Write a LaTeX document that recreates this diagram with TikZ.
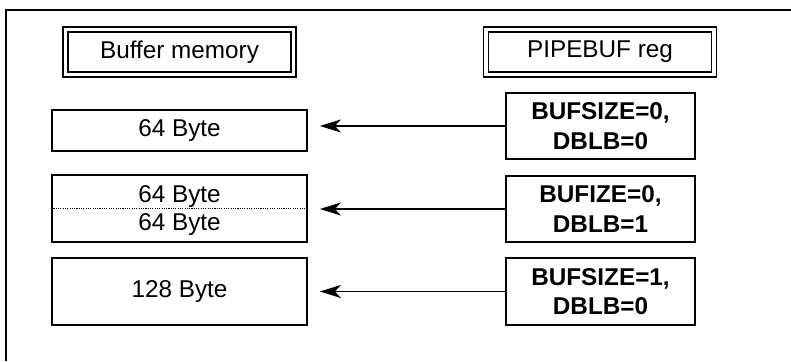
\documentclass[tikz,border=0pt]{standalone}
\usepackage{fontspec}
\setmainfont{Liberation Sans}
\usetikzlibrary{arrows.meta}
\begin{document}
\begin{tikzpicture}[x=1pt,y=-1pt,
  hdr/.style={draw, double, line width=1.8pt, double distance=3.2pt, inner sep=0pt,
    minimum width=228pt, minimum height=45pt, font=\fontsize{24.3}{28}\selectfont},
  membox/.style={draw, line width=1.8pt, inner sep=0pt, minimum width=255pt,
    font=\fontsize{24.3}{28}\selectfont},
  regbox/.style={draw, line width=1.8pt, inner sep=0pt, minimum width=189pt,
    minimum height=66pt, align=center, font=\fontsize{24.3}{29.5}\selectfont\bfseries},
  memtxt/.style={inner sep=0pt, anchor=base, font=\fontsize{24.3}{28}\selectfont},
  arr/.style={line width=1.6pt, -{Stealth[length=21pt,width=13pt,inset=6pt]}, shorten >=12pt}
]
\useasboundingbox (0,0) rectangle (791,361);
\coordinate (fr1) at (791,10);
\coordinate (fr2) at (6,10);
\coordinate (fr3) at (6,361);
\draw[line width=2.8pt] (fr1) -- (fr2) -- (fr3);

\node[hdr] (hmem) at (179.5,52) {Buffer memory};
\node[hdr] (hreg) at (600,52) {PIPEBUF reg};

\node[membox, minimum height=41pt] (mem1) at (179.5,130.5) {64 Byte};
\node[membox, minimum height=67pt] (mem2) at (179.5,208.5) {};
\node[membox, minimum height=67pt] (mem3) at (179.5,291.5) {128 Byte};
\node[memtxt] (m2a) at (179.5,202.5) {64 Byte};
\node[memtxt] (m2b) at (179.5,230.5) {64 Byte};
\draw[line width=1.1pt, dash pattern=on 1.1pt off 1.2pt] (mem2.west) -- (mem2.east);

\node[regbox] (reg1) at (600.5,126) {BUFSIZE=0,\\DBLB=0};
\node[regbox] (reg2) at (600.5,209) {BUFIZE=0,\\DBLB=1};
\node[regbox, minimum height=67pt] (reg3) at (600.5,291.5) {BUFSIZE=1,\\DBLB=0};

\draw[arr] (reg1.west) -- (mem1.east |- reg1.west);
\draw[arr] (reg2.west) -- (mem2.east |- reg2.west);
\draw[arr] (reg3.west) -- (mem3.east |- reg3.west);
\end{tikzpicture}
\end{document}
